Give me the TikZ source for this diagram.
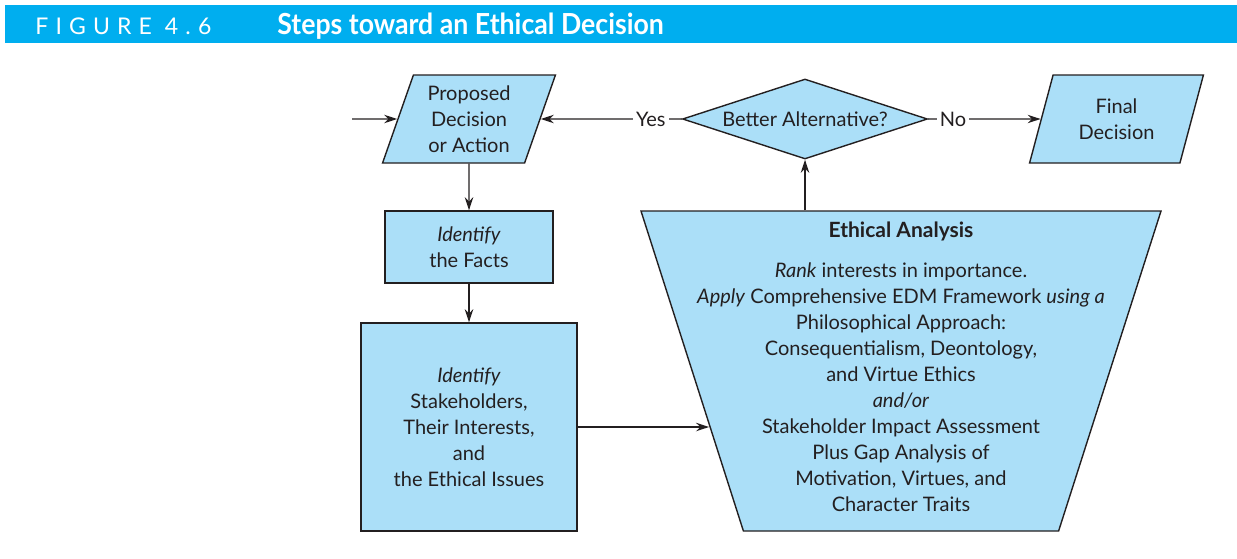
\documentclass[tikz,border=0pt]{standalone}
\usepackage{fontspec}
\setmainfont{Lato}
\usepackage{tikz}
\usetikzlibrary{arrows.meta,shapes,positioning,calc}
\definecolor{figcyan}{RGB}{0,174,239}
\definecolor{boxblue}{RGB}{171,223,248}
\definecolor{inkgray}{RGB}{35,31,32}

\begin{document}
\begin{tikzpicture}[x=0.5pt,y=-0.5pt,
  >={Stealth[length=6.5pt,width=4.2pt]},
  every node/.style={text=inkgray,font=\fontsize{10}{13}\selectfont},
  flow/.style={draw=inkgray,line width=0.7pt},
  box/.style={flow,fill=boxblue,rectangle,inner sep=0pt,align=center},
  para/.style={flow,fill=boxblue,trapezium,trapezium left angle=71,trapezium right angle=109,
    trapezium stretches=true,inner sep=0pt,align=center,minimum width=87pt,minimum height=44pt},
  choice/.style={flow,fill=boxblue,diamond,aspect=3,inner sep=0pt,minimum width=122.5pt,minimum height=40pt},
  funnel/.style={flow,fill=boxblue,trapezium,trapezium left angle=72,trapezium right angle=72,
    shape border rotate=180,trapezium stretches=true,inner sep=2pt,minimum width=260pt,minimum height=160pt},
  answer/.style={pos=0.22,fill=white,inner sep=1.5pt}]
\useasboundingbox (0,0) rectangle (1237,558);
%%%%% header bar:
\fill[figcyan] (5,5) rectangle (1237,43);
\node[anchor=base west,inner sep=0pt,text=white,font=\fontsize{11.5}{13}\selectfont\addfontfeature{LetterSpace=31}] (fignum) at (35,34) {FIGURE 4.6};
\node[anchor=base west,inner sep=0pt,text=white,font=\fontsize{14.5}{16}\selectfont\bfseries] (figtitle) at (277,34) {\scalebox{0.92}[1]{Steps toward an Ethical Decision}};
%%%%% top row:
\coordinate (entry) at (352,119);
\node[para] (prop) at (469,119) {Proposed\\Decision\\or Action};
\node[choice] (alt) at (805,119) {Better Alternative?};
\node[para] (final) at (1116.5,119) {Final\\Decision};
%%%%% left column:
\node[box,minimum width=84pt,minimum height=36pt] (facts) at (469,247) {\textit{Identify}\\the Facts};
\node[box,minimum width=108pt,minimum height=104pt] (stake) at (469,427) {\textit{Identify}\\Stakeholders,\\Their Interests,\\and\\the Ethical Issues};
%%%%% analysis funnel:
\node[funnel] (eth) at (901,371) {};
\node[align=center] (ethtxt) at (901,367) {{\fontsize{10.5}{13}\selectfont\textbf{Ethical Analysis}}\\[7pt]
  \textit{Rank} interests in importance.\\
  \textit{Apply} Comprehensive EDM Framework \textit{using a}\\
  Philosophical Approach:\\
  Consequentialism, Deontology,\\
  and Virtue Ethics\\
  \textit{and/or}\\
  Stakeholder Impact Assessment\\
  Plus Gap Analysis of\\
  Motivation, Virtues, and\\
  Character Traits};
%%%%% connectors:
\draw[flow,->] (entry) -- (prop.west);
\draw[flow,->] (prop.south) -- (facts.north);
\draw[flow,->] (facts.south) -- (stake.north);
\draw[flow,->] (stake.east) -- (stake.east -| eth.196.4);
\draw[flow,->] (eth.north -| alt.south) -- (alt.south);
\draw[flow,->] (alt.west) -- node[answer] (yes) {Yes} (prop.east);
\draw[flow,->] (alt.east) -- node[answer] (no) {No} (final.west);
\end{tikzpicture}
\end{document}
